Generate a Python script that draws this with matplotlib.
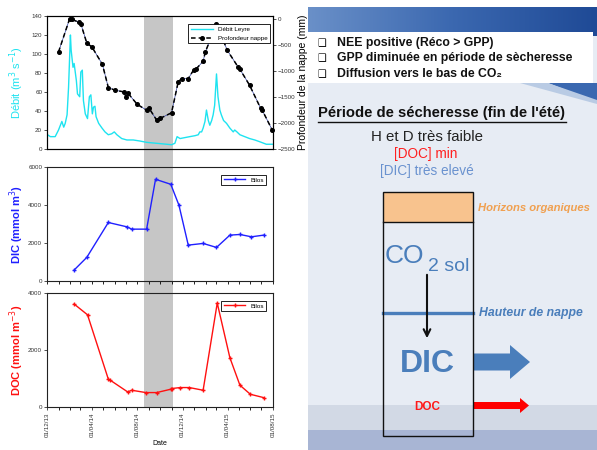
import numpy as np
import pandas as pd
import matplotlib
matplotlib.use("Agg")
import matplotlib.pyplot as plt
import matplotlib.dates as mdates
from matplotlib.patches import Rectangle, FancyArrow, Polygon
from matplotlib.transforms import blended_transform_factory
from matplotlib.colors import LinearSegmentedColormap

plt.rcParams['font.family'] = ['Liberation Sans', 'DejaVu Sans']

# ---------------- data ----------------
start = pd.Timestamp('2013-12-01')
end = pd.Timestamp('2015-08-01')
dry_start_day, dry_end_day = 262, 338

q_days = [0, 9, 22, 31, 36, 40, 45, 49, 54, 58, 63, 65, 70, 73, 79, 82, 88, 91, 95, 98,
          103, 109, 114, 118, 122, 125, 129, 132, 139, 148, 156, 165, 174, 181, 188, 201, 215, 232, 250, 268,
          295, 322, 335, 344, 350, 358, 371, 384, 398, 407, 411, 416, 420, 425, 429, 434, 438, 443, 447, 451,
          456, 460, 465, 469, 475, 483, 492, 501, 505, 511, 519, 532, 545, 559, 572, 590, 606]
q_vals = [15.4, 13, 13, 20, 25, 29, 23, 27, 36, 65, 120, 104, 86, 90, 72, 58, 55, 81, 83, 51,
          37, 32, 55, 57, 37, 44, 45, 34, 27, 22, 18, 15, 16, 18, 15, 11, 9.5, 9.5, 8.4, 7,
          6, 5, 4.5, 6, 13, 11, 12, 13, 14, 15, 18, 18, 22, 29, 41, 30, 25, 30, 36, 46,
          79, 55, 41, 36, 30, 27, 22, 18, 20, 18, 15, 13, 11, 9.5, 7.7, 5, 5]

wt_days = [31, 61, 67, 85, 91, 107, 121, 149, 165, 183, 206, 213, 217, 243, 268, 275, 295, 304, 335, 353,
           362, 380, 395, 402, 420, 426, 456, 485, 514, 519, 545, 575, 579, 606]
wt_vals = [-640, 0, -16, -67, -99, -468, -545, -876, -1322, -1373, -1404, -1500, -1424, -1646, -1755, -1723,
           -1946, -1914, -1806, -1213, -1150, -1150, -978, -959, -818, -640, -99, -608, -927, -971, -1277,
           -1723, -1755, -2137]

dic_days = [73, 107, 165, 215, 228, 268, 292, 333, 355, 380, 420, 456, 492, 519, 550, 583]
dic_vals = [577, 1242, 3079, 2851, 2729, 2729, 5353, 5090, 3988, 1889, 1977, 1767, 2414, 2449, 2326, 2414]

doc_days = [73, 109, 165, 170, 217, 228, 266, 295, 333, 335, 358, 383, 420, 458, 492, 519, 547, 583]
doc_vals = [3612, 3235, 976, 941, 529, 588, 506, 506, 624, 647, 682, 682, 588, 3647, 1729, 765, 447, 329]

def to_dates(days):
    return start + pd.to_timedelta(days, unit='D')

W, H = 597, 450
fig = plt.figure(figsize=(W / 100, H / 100), dpi=100)
fig.patch.set_facecolor('white')

def fbox(x0, y0, x1, y1):
    return [x0 / W, 1 - y1 / H, (x1 - x0) / W, (y1 - y0) / H]

ax1 = fig.add_axes(fbox(47, 16, 273, 149))
ax2 = fig.add_axes(fbox(47, 167, 273, 281))
ax3 = fig.add_axes(fbox(47, 293, 273, 407))

cyan = '#1ee3f0'
tick_fs = 4.5
for ax in (ax1, ax2, ax3):
    ax.set_facecolor('none')
    ax.set_xlim(start, end)
    for s in ax.spines.values():
        s.set_linewidth(0.8)
        s.set_color('#222222')
    ax.tick_params(axis='y', labelsize=tick_fs, length=2, width=0.6, pad=1.5, colors='#333333')
    ax.xaxis.set_major_locator(mdates.MonthLocator(bymonth=[12, 4, 8]))
    ax.xaxis.set_minor_locator(mdates.MonthLocator())
    ax.xaxis.set_major_formatter(mdates.DateFormatter('%d/%m/%y'))

# gray dry-period band across all three panels
trans = blended_transform_factory(ax1.transData, fig.transFigure)
x0 = mdates.date2num(to_dates([dry_start_day])[0])
x1 = mdates.date2num(to_dates([dry_end_day])[0])
band = Rectangle((x0, 1 - 407 / H), x1 - x0, (407 - 16) / H, transform=trans,
                 facecolor='#c6c6c6', edgecolor='none', zorder=-1)
fig.add_artist(band)

# ---- top panel ----
ax1.plot(to_dates(q_days), q_vals, color=cyan, lw=1.0, label='Débit Leyre')
ax1.set_ylim(0, 140)
ax1.set_yticks(range(0, 141, 20))
ax1.tick_params(axis='x', which='both', length=0, labelbottom=False)
ax1.set_ylabel('Débit (m$^3$ s$^{-1}$)', color=cyan, fontsize=8)
ax1r = ax1.twinx()
ax1r.set_facecolor('none')
ax1r.plot(to_dates(wt_days), wt_vals, color='#2a3a9a', lw=0.5)
ax1r.plot(to_dates(wt_days), wt_vals, color='black', lw=1.1, ls=(0, (3, 2)),
          marker='o', ms=2.6, label='Profondeur nappe', clip_on=False)
ax1r.set_ylim(-2500, 50)
ax1r.set_yticks([0, -500, -1000, -1500, -2000, -2500])
ax1r.tick_params(axis='y', labelsize=tick_fs, length=2, width=0.6, pad=1.5, colors='#333333')
ax1r.set_ylabel('Profondeur de la nappe (mm)', fontsize=7.5, labelpad=2)
ax1r.set_xlim(start, end)
h1, l1 = ax1.get_legend_handles_labels()
h2, l2 = ax1r.get_legend_handles_labels()
leg = ax1r.legend(h1 + h2[-1:], l1 + l2[-1:], loc='upper right', fontsize=4.5, fancybox=False,
                  edgecolor='black', framealpha=1, borderpad=0.4, handlelength=3.5,
                  bbox_to_anchor=(1.0, 0.96))
leg.get_frame().set_linewidth(0.6)

# ---- DIC ----
ax2.plot(to_dates(dic_days), dic_vals, color='#2020ff', lw=1.0, marker='+', ms=3.5, mew=1.0,
         label='Bilos')
ax2.set_ylim(0, 6000)
ax2.set_yticks([0, 2000, 4000, 6000])
ax2.tick_params(axis='x', which='both', length=2, width=0.6, labelbottom=False, direction='out')
ax2.set_ylabel('DIC (mmol m$^{3}$)', color='#2020ff', fontsize=8, fontweight='bold')
lg2 = ax2.legend(loc='upper right', fontsize=4.5, fancybox=False, edgecolor='black', framealpha=1,
                 handlelength=3.5, borderpad=0.4, bbox_to_anchor=(0.985, 0.96))
lg2.get_frame().set_linewidth(0.6)

# ---- DOC ----
ax3.plot(to_dates(doc_days), doc_vals, color='#ff1010', lw=1.0, marker='+', ms=3.5, mew=1.0,
         label='Bilos')
ax3.set_ylim(0, 4000)
ax3.set_yticks([0, 2000, 4000])
ax3.tick_params(axis='x', which='both', length=2, width=0.6, direction='out')
ax3.tick_params(axis='x', which='major', labelsize=4.5, rotation=90, pad=2, colors='#333333')
ax3.set_xlabel('Date', fontsize=5, labelpad=2)
ax3.set_ylabel('DOC (mmol m$^{-3}$)', color='#ff1010', fontsize=8, fontweight='bold')
lg3 = ax3.legend(loc='upper right', fontsize=4.5, fancybox=False, edgecolor='black', framealpha=1,
                 handlelength=3.5, borderpad=0.4, bbox_to_anchor=(0.985, 0.96))
lg3.get_frame().set_linewidth(0.6)

for ax in (ax1, ax2, ax3):
    ax.yaxis.set_label_coords(-0.095, 0.5)

# ---------------- slide panel ----------------
sx0 = 308
sl = fig.add_axes([sx0 / W, 0, (W - sx0) / W, 1])
sl.set_xlim(sx0, W)
sl.set_ylim(H, 0)
sl.axis('off')
sl.set_zorder(-2)

sl.add_patch(Rectangle((sx0, 7), W - sx0, H - 7, facecolor='#e7ecf4', edgecolor='none'))
grad = np.linspace(0, 1, 256).reshape(1, -1)
cm = LinearSegmentedColormap.from_list('b', ['#6a90c8', '#3b68b0', '#1f4a96'])
sl.imshow(grad, cmap=cm, extent=(sx0, W, 36, 7), aspect='auto', zorder=1)
sl.add_patch(Polygon([(548, 83), (W, 83), (W, 102)], closed=True, facecolor='#3a68b0',
                     edgecolor='none', zorder=1))
sl.add_patch(Polygon([(520, 83), (548, 83), (W, 100), (W, 104)], closed=True, facecolor='#b9cbe4',
                     edgecolor='none', zorder=1))
sl.add_patch(Rectangle((sx0, 32), 593 - sx0, 51, facecolor='white', edgecolor='none', zorder=2))
sl.add_patch(Rectangle((sx0, 405), W - sx0, 25, facecolor='#d2d9e5', edgecolor='none', zorder=1))
sl.add_patch(Rectangle((sx0, 430), W - sx0, 20, facecolor='#a8b5d4', edgecolor='none', zorder=1))

bullets = ['NEE positive (Réco > GPP)', 'GPP diminuée en période de sècheresse',
           'Diffusion vers le bas de CO₂']
for i, btxt in enumerate(bullets):
    yy = 43 + i * 15.5
    sl.text(317, yy, '❑', fontsize=7, va='center', ha='left', zorder=3,
            family=['DejaVu Sans'])
    sl.text(337, yy, btxt, fontsize=8.8, fontweight='bold', va='center', ha='left', zorder=3,
            color='#111111')

sl.text(318, 113, "Période de sécheresse (fin de l'été)", fontsize=10.6, fontweight='bold',
        va='center', ha='left', zorder=3, color='#111111')
sl.plot([318, 566], [121.5, 121.5], color='#111111', lw=1.0, zorder=3)

sl.text(427, 137, 'H et D très faible', fontsize=10.8, ha='center', va='center', color='#222222', zorder=3)
sl.text(426, 154, '[DOC] min', fontsize=9.8, ha='center', va='center', color='#ff2020', zorder=3)
sl.text(427, 171, '[DIC] très elevé', fontsize=9.8, ha='center', va='center', color='#6a92cf', zorder=3)

blue = '#4a7ebb'
sl.add_patch(Rectangle((383, 192), 90, 30, facecolor='#f8c38e', edgecolor='none', zorder=3))
sl.add_patch(Rectangle((383, 192), 90, 244, facecolor='none', edgecolor='#111111', lw=1.0, zorder=5))
sl.plot([383, 473], [222, 222], color='#111111', lw=1.0, zorder=5)
sl.text(478, 208, 'Horizons organiques', fontsize=8.1, fontweight='bold', style='italic',
        color='#f0a050', va='center', ha='left', zorder=3)

sl.text(385, 263, 'CO', fontsize=19, color=blue, va='baseline', ha='left', zorder=4)
sl.text(428, 271, '2 sol', fontsize=14, color=blue, va='baseline', ha='left', zorder=4)

sl.plot([383, 473], [313, 313], color=blue, lw=2.4, zorder=4)
sl.text(479, 313, 'Hauteur de nappe', fontsize=8.8, fontweight='bold', style='italic',
        color=blue, va='center', ha='left', zorder=3)

sl.annotate('', xy=(427, 341), xytext=(427, 272),
            arrowprops=dict(arrowstyle='->', lw=1.5, color='#111111', mutation_scale=12), zorder=6)

sl.text(427, 364, 'DIC', fontsize=23, fontweight='bold', color=blue, ha='center', va='center', zorder=4)
sl.add_patch(FancyArrow(473, 362, 57, 0, width=17, head_width=34, head_length=20,
                        length_includes_head=True, facecolor=blue, edgecolor='none', zorder=4))

sl.text(427, 407, 'DOC', fontsize=8.5, fontweight='bold', color='#ff1a1a', ha='center', va='center', zorder=4)
sl.add_patch(FancyArrow(473, 405.5, 56, 0, width=7, head_width=15, head_length=9,
                        length_includes_head=True, facecolor='#ff0000', edgecolor='none', zorder=4))

fig.savefig('out.png', dpi=100)
